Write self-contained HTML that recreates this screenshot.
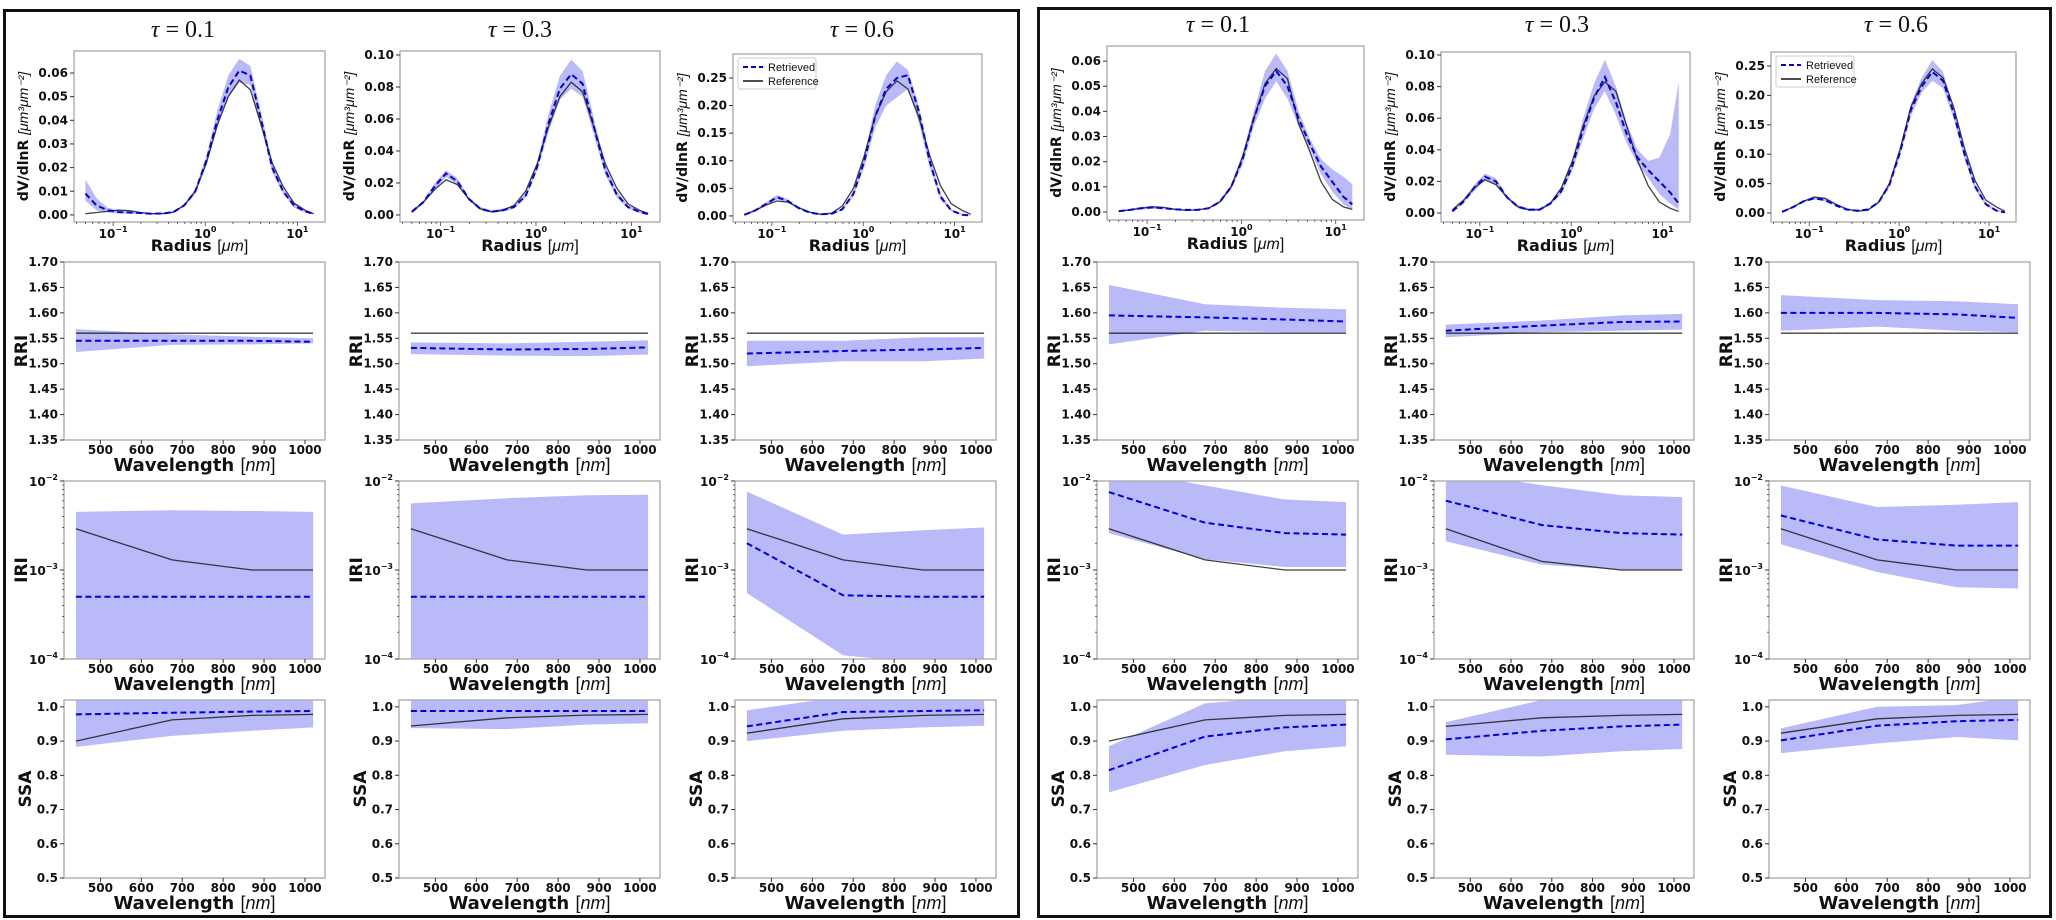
<!DOCTYPE html>
<html><head><meta charset="utf-8">
<style>
html,body{margin:0;padding:0;background:#fff;}
svg{display:block;font-family:"DejaVu Sans","Liberation Sans",sans-serif;}
</style></head>
<body>
<svg id="fig" width="2056" height="920" viewBox="0 0 2056 920" xmlns="http://www.w3.org/2000/svg">
<rect x="0" y="0" width="2056" height="920" fill="#fff"/>
<rect x="4.5" y="10.5" width="1014" height="906" fill="none" stroke="#111" stroke-width="3"/>
<rect x="1038.5" y="8.5" width="1012" height="908" fill="none" stroke="#111" stroke-width="3"/>
</svg>
<script>
// ===== data (panel order: L-tau0.1, L-tau0.3, L-tau0.6, R-tau0.1, R-tau0.3, R-tau0.6) =====
const tauLabels = ["0.1","0.3","0.6","0.1","0.3","0.6"];
const wavelengths = [440, 675, 870, 1020];
const radii = [0.05,0.066,0.087,0.114,0.15,0.198,0.26,0.342,0.45,0.59,0.78,1.03,1.35,1.78,2.34,3.08,4.05,5.33,7.0,9.2,12.1,15.0];
const wlTicks = [500,600,700,800,900,1000];
const rriTicks = [1.35,1.40,1.45,1.50,1.55,1.60,1.65,1.70];
const ssaTicks = [0.5,0.6,0.7,0.8,0.9,1.0];
const iriTickExp = [-4,-3,-2];
const radiusTickExp = [-1,0,1];
const dvTicks = [
 [0,0.01,0.02,0.03,0.04,0.05,0.06],[0,0.02,0.04,0.06,0.08,0.10],[0,0.05,0.10,0.15,0.20,0.25],
 [0,0.01,0.02,0.03,0.04,0.05,0.06],[0,0.02,0.04,0.06,0.08,0.10],[0,0.05,0.10,0.15,0.20,0.25]];
const dvLimits = [[-0.003,0.0693],[-0.0044,0.1025],[-0.011,0.2935],[-0.0032,0.066],[-0.0057,0.1019],[-0.0153,0.2738]];

const dvRef = [
 [0.0005,0.001,0.0015,0.002,0.0018,0.001,0.0005,0.0005,0.0012,0.004,0.01,0.022,0.038,0.05,0.057,0.053,0.038,0.022,0.012,0.005,0.002,0.0005],
 [0.002,0.008,0.016,0.022,0.019,0.01,0.004,0.002,0.003,0.006,0.015,0.032,0.055,0.074,0.083,0.077,0.055,0.032,0.017,0.007,0.003,0.001],
 [0.002,0.01,0.02,0.027,0.025,0.015,0.007,0.003,0.005,0.018,0.05,0.11,0.18,0.225,0.245,0.23,0.18,0.11,0.055,0.022,0.01,0.003],
 [0.0003,0.0008,0.0015,0.002,0.0018,0.001,0.0006,0.0008,0.0015,0.004,0.01,0.022,0.037,0.051,0.057,0.053,0.035,0.024,0.012,0.005,0.002,0.001],
 [0.002,0.008,0.016,0.021,0.018,0.01,0.004,0.002,0.002,0.006,0.016,0.033,0.055,0.074,0.083,0.077,0.055,0.033,0.017,0.007,0.003,0.001],
 [0.002,0.01,0.02,0.027,0.025,0.015,0.007,0.003,0.005,0.018,0.05,0.11,0.18,0.22,0.245,0.23,0.18,0.11,0.055,0.022,0.01,0.003]];
const dvRet = [
 [0.009,0.004,0.002,0.0012,0.001,0.0008,0.0005,0.0006,0.0012,0.004,0.01,0.023,0.04,0.054,0.061,0.059,0.04,0.02,0.01,0.004,0.0015,0.0005],
 [0.002,0.008,0.018,0.026,0.021,0.01,0.004,0.002,0.003,0.005,0.012,0.03,0.057,0.079,0.088,0.082,0.055,0.028,0.013,0.005,0.002,0.0005],
 [0.002,0.01,0.022,0.034,0.027,0.014,0.006,0.003,0.004,0.012,0.04,0.1,0.18,0.23,0.25,0.255,0.19,0.1,0.035,0.01,0.002,0.001],
 [0.0003,0.0008,0.0015,0.0018,0.0015,0.001,0.0008,0.0008,0.0015,0.004,0.01,0.021,0.037,0.05,0.056,0.05,0.037,0.027,0.018,0.012,0.006,0.003],
 [0.001,0.007,0.016,0.023,0.02,0.01,0.004,0.002,0.002,0.006,0.014,0.03,0.053,0.073,0.086,0.07,0.05,0.035,0.027,0.02,0.013,0.006],
 [0.002,0.01,0.02,0.025,0.022,0.013,0.006,0.004,0.006,0.018,0.048,0.105,0.175,0.215,0.24,0.225,0.17,0.1,0.045,0.015,0.004,0.001]];
const dvHi = [
 [0.015,0.007,0.003,0.002,0.0015,0.001,0.0008,0.0009,0.0016,0.0045,0.011,0.025,0.044,0.059,0.066,0.063,0.043,0.022,0.011,0.005,0.002,0.0008],
 [0.003,0.009,0.02,0.028,0.023,0.011,0.005,0.003,0.004,0.006,0.014,0.033,0.063,0.087,0.097,0.09,0.06,0.031,0.015,0.006,0.003,0.001],
 [0.003,0.012,0.025,0.038,0.03,0.016,0.007,0.004,0.005,0.014,0.045,0.11,0.2,0.255,0.28,0.265,0.2,0.11,0.04,0.012,0.003,0.0015],
 [0.0006,0.0012,0.002,0.0025,0.002,0.0014,0.001,0.001,0.0018,0.0045,0.011,0.023,0.04,0.056,0.063,0.056,0.04,0.029,0.021,0.017,0.014,0.011],
 [0.002,0.008,0.018,0.025,0.022,0.011,0.005,0.003,0.003,0.007,0.016,0.034,0.06,0.082,0.097,0.08,0.057,0.04,0.033,0.035,0.05,0.083],
 [0.003,0.011,0.022,0.027,0.024,0.014,0.007,0.005,0.007,0.02,0.052,0.112,0.185,0.23,0.26,0.24,0.18,0.108,0.05,0.018,0.006,0.002]];
const dvLo = [
 [0.006,0.002,0.001,0.0006,0.0005,0.0004,0.0003,0.0004,0.0009,0.0035,0.009,0.021,0.037,0.05,0.056,0.055,0.037,0.018,0.009,0.003,0.001,0.0003],
 [0.001,0.007,0.016,0.024,0.019,0.009,0.003,0.0015,0.002,0.004,0.011,0.028,0.052,0.072,0.079,0.074,0.05,0.025,0.011,0.004,0.0015,0.0002],
 [0.001,0.008,0.019,0.03,0.024,0.012,0.005,0.002,0.003,0.01,0.035,0.09,0.16,0.2,0.215,0.23,0.17,0.088,0.03,0.008,0.001,0.0005],
 [0.0001,0.0005,0.001,0.0012,0.001,0.0007,0.0005,0.0006,0.0012,0.0035,0.009,0.019,0.034,0.045,0.052,0.045,0.034,0.025,0.015,0.008,0.003,0.001],
 [0.0005,0.006,0.014,0.021,0.018,0.009,0.003,0.0015,0.0015,0.005,0.012,0.027,0.047,0.066,0.077,0.062,0.044,0.031,0.022,0.012,0.006,0.002],
 [0.001,0.009,0.018,0.023,0.02,0.012,0.005,0.003,0.005,0.016,0.044,0.098,0.165,0.205,0.225,0.212,0.16,0.092,0.04,0.012,0.002,0.0005]];

const rriRef = [[1.56,1.56,1.56,1.56],[1.56,1.56,1.56,1.56],[1.56,1.56,1.56,1.56],[1.56,1.56,1.56,1.56],[1.56,1.56,1.56,1.56],[1.56,1.56,1.56,1.56]];
const rriRet = [[1.545,1.545,1.545,1.543],[1.531,1.528,1.529,1.532],[1.52,1.525,1.528,1.531],[1.595,1.591,1.587,1.583],[1.565,1.575,1.582,1.583],[1.60,1.60,1.597,1.59]];
const rriHi  = [[1.568,1.558,1.553,1.55],[1.542,1.540,1.543,1.546],[1.545,1.545,1.552,1.552],[1.655,1.617,1.61,1.607],[1.577,1.585,1.595,1.598],[1.635,1.625,1.623,1.617]];
const rriLo  = [[1.523,1.537,1.538,1.54],[1.519,1.516,1.515,1.518],[1.495,1.505,1.505,1.51],[1.538,1.565,1.562,1.562],[1.552,1.562,1.565,1.567],[1.565,1.573,1.565,1.562]];

const iriRef = [[2.9e-3,1.3e-3,1.0e-3,1.0e-3],[2.9e-3,1.3e-3,1.0e-3,1.0e-3],[2.9e-3,1.3e-3,1.0e-3,1.0e-3],[2.9e-3,1.3e-3,1.0e-3,1.0e-3],[2.9e-3,1.25e-3,1.0e-3,1.0e-3],[2.9e-3,1.3e-3,1.0e-3,1.0e-3]];
const iriRet = [[5e-4,5e-4,5e-4,5e-4],[5e-4,5e-4,5e-4,5e-4],[2.0e-3,5.2e-4,5e-4,5e-4],[7.5e-3,3.4e-3,2.6e-3,2.5e-3],[6.0e-3,3.2e-3,2.6e-3,2.5e-3],[4.1e-3,2.2e-3,1.88e-3,1.88e-3]];
const iriHi  = [[4.5e-3,4.7e-3,4.6e-3,4.5e-3],[5.6e-3,6.4e-3,6.9e-3,7.0e-3],[7.6e-3,2.5e-3,2.8e-3,3.0e-3],[1.4e-2,8.9e-3,6.2e-3,5.8e-3],[1.3e-2,9.0e-3,6.9e-3,6.6e-3],[8.9e-3,5.1e-3,5.4e-3,5.8e-3]];
const iriLo  = [[5e-5,5e-5,5e-5,5e-5],[5e-5,5e-5,5e-5,5e-5],[5.5e-4,1.1e-4,9e-5,8e-5],[2.6e-3,1.32e-3,1.08e-3,1.08e-3],[2.1e-3,1.15e-3,1.0e-3,1.0e-3],[1.95e-3,9.5e-4,6.4e-4,6.2e-4]];

const ssaRef = [[0.90,0.962,0.975,0.978],[0.944,0.968,0.976,0.978],[0.923,0.965,0.975,0.978],[0.90,0.962,0.975,0.978],[0.943,0.968,0.975,0.978],[0.923,0.965,0.975,0.978]];
const ssaRet = [[0.978,0.983,0.986,0.988],[0.988,0.988,0.988,0.988],[0.943,0.985,0.988,0.99],[0.815,0.913,0.94,0.948],[0.905,0.93,0.943,0.948],[0.902,0.945,0.958,0.962]];
const ssaHi  = [[1.03,1.03,1.03,1.03],[1.03,1.03,1.03,1.03],[0.99,1.03,1.03,1.03],[0.885,1.01,1.03,1.03],[0.955,1.02,1.03,1.03],[0.937,1.0,1.005,1.03]];
const ssaLo  = [[0.883,0.915,0.93,0.94],[0.938,0.935,0.948,0.952],[0.90,0.93,0.94,0.945],[0.75,0.83,0.87,0.885],[0.86,0.855,0.87,0.877],[0.865,0.893,0.912,0.902]];

// ===== layout =====
const colX = [[64,325],[399,660],[735,996],[1097,1358],[1434,1694],[1769,2030]];
const dvX  = [[74,325],[400,660],[733,982],[1107,1364],[1441,1690],[1771,2016]];
const dvY  = [[51,222],[51,222],[54,222],[46,220],[52,222],[52,222]];
const titleXY = [[183,37],[520,37],[862,37],[1218,32],[1557,32],[1896,32]];
const rowY = {rri:[262,440], iri:[481,659], ssa:[700,878]};
const WL_LIM = [411,1049];
const R_LIM = [-1.425,1.30];

const NS = "http://www.w3.org/2000/svg";
const svg = document.getElementById('fig');
let clipN = 0;
function mk(tag, attrs, parent){
  const e = document.createElementNS(NS, tag);
  for (const k in attrs) e.setAttribute(k, attrs[k]);
  (parent||svg).appendChild(e);
  return e;
}
function linS(d0,d1,p0,p1){ return v => p0 + (v-d0)/(d1-d0)*(p1-p0); }
function logS(e0,e1,p0,p1){ return v => p0 + (Math.log10(v)-e0)/(e1-e0)*(p1-p0); }
function fmt(v,d){ return v.toFixed(d); }

function powLabel(parent, x, y, exp, anchor){
  const t = mk('text', {x:x, y:y, 'font-size':12, 'font-weight':'bold', 'text-anchor':anchor, fill:'#111'}, parent);
  const a = mk('tspan', {}, t); a.textContent = '10';
  const b = mk('tspan', {dy:-6, 'font-size':8}, t); b.textContent = (exp<0?'\u2212':'')+Math.abs(exp);
  return t;
}

function axesFrame(g, x0,x1,y0,y1){
  const id = 'clip'+(clipN++);
  const cp = mk('clipPath', {id:id}, g);
  mk('rect', {x:x0, y:y0, width:x1-x0, height:y1-y0}, cp);
  const area = mk('g', {'clip-path':'url(#'+id+')'}, g);
  return area;
}
function frameBorder(g,x0,x1,y0,y1){
  const r = mk('rect', {x:x0, y:y0, width:x1-x0, height:y1-y0, fill:'none', stroke:'#a8a8a8', 'stroke-width':1.3}, g);
  
  
}

function drawSeries(area, xs, xsc, ysc, ret, ref, hi, lo, names){
  let d = '';
  xs.forEach((x,i)=>{ d += (i?'L':'M') + xsc(x).toFixed(1) + ' ' + ysc(hi[i]).toFixed(1); });
  for (let i=xs.length-1;i>=0;i--) d += 'L' + xsc(xs[i]).toFixed(1) + ' ' + ysc(lo[i]).toFixed(1);
  const band = mk('path', {d:d+'Z', fill:'#babaf8', stroke:'none'}, area);
  
  
  const pts = arr => xs.map((x,i)=>xsc(x).toFixed(1)+','+ysc(arr[i]).toFixed(1)).join(' ');
  const l1 = mk('polyline', {points:pts(ref), fill:'none', stroke:'#111', 'stroke-opacity':0.8, 'stroke-width':1.3}, area);
  
  
  const l2 = mk('polyline', {points:pts(ret), fill:'none', stroke:'#0000e6', 'stroke-width':2, 'stroke-dasharray':'6,3.5'}, area);
  
  
}

function xWavelengthAxis(g, x0,x1,y1, xsc){
  wlTicks.forEach(t=>{
    const px = xsc(t);
    mk('line', {x1:px, x2:px, y1:y1, y2:y1+4, stroke:'#333', 'stroke-width':1}, g);
    const tl = mk('text', {x:px, y:y1+14, 'font-size':12, 'font-weight':'bold', 'text-anchor':'middle', fill:'#111'}, g);
    tl.textContent = t;
    
    
  });
  const xl = mk('text', {x:(x0+x1)/2, y:y1+31, 'font-size':18, 'text-anchor':'middle', fill:'#111'}, g);
  const a = mk('tspan', {'font-weight':'bold'}, xl); a.textContent = 'Wavelength ';
  const b = mk('tspan', {'font-family':'Liberation Sans, sans-serif'}, xl); b.textContent = ' [';
  const c = mk('tspan', {'font-style':'italic','font-family':'Liberation Sans, sans-serif'}, xl); c.textContent = 'nm';
  const dd = mk('tspan', {'font-family':'Liberation Sans, sans-serif'}, xl); dd.textContent = ']';
  
  
}
function yLabel(g, x, y, txt){
  const t = mk('text', {x:x, y:y, 'font-size':17, 'font-weight':'bold', 'text-anchor':'middle', fill:'#111', transform:'rotate(-90 '+x+' '+y+')'}, g);
  t.textContent = txt;
  
  
}
function linYTicks(g, x0, ysc, ticks, dec){
  ticks.forEach(t=>{
    const py = ysc(t);
    mk('line', {x1:x0-4, x2:x0, y1:py, y2:py, stroke:'#333', 'stroke-width':1}, g);
    const tl = mk('text', {x:x0-6, y:py+4, 'font-size':12, 'font-weight':'bold', 'text-anchor':'end', fill:'#111'}, g);
    tl.textContent = fmt(t,dec);
    
    
  });
}

for (let p=0; p<6; p++){
  const g = mk('g', {});
  
  

  const tt = mk('text', {x:titleXY[p][0], y:titleXY[p][1], 'font-size':24, 'text-anchor':'middle', fill:'#111', 'font-family':'Liberation Serif, serif'}, g);
  const ta = mk('tspan', {'font-style':'italic'}, tt); ta.textContent = '\u03C4';
  const tb = mk('tspan', {}, tt); tb.textContent = ' = ' + tauLabels[p];
  
  

  // ---- size distribution ----
  {
    const [x0,x1] = dvX[p], [y0,y1] = dvY[p];
    const xsc = logS(R_LIM[0], R_LIM[1], x0, x1);
    const ysc = linS(dvLimits[p][0], dvLimits[p][1], y1, y0);
    const sg = mk('g', {}, g);
    
    
    const area = axesFrame(sg, x0,x1,y0,y1);
    drawSeries(area, radii, xsc, ysc, dvRet[p], dvRef[p], dvHi[p], dvLo[p], 'dv');
    frameBorder(sg,x0,x1,y0,y1);
    for (let e=-2; e<=1; e++) for (let m=1; m<10; m++){
      const v = m*Math.pow(10,e), px = xsc(v);
      if (px < x0 || px > x1) continue;
      mk('line', {x1:px, x2:px, y1:y1, y2:y1+(m===1?4:2), stroke:'#444', 'stroke-width':0.8}, sg);
    }
    radiusTickExp.forEach(e=>{
      const tl = powLabel(sg, xsc(Math.pow(10,e)), y1+16, e, 'middle');
      
      
    });
    linYTicks(sg, x0, ysc, dvTicks[p], 2);
    const xl = mk('text', {x:(x0+x1)/2, y:y1+29, 'font-size':16, 'text-anchor':'middle', fill:'#111'}, sg);
    const a = mk('tspan', {'font-weight':'bold'}, xl); a.textContent = 'Radius ';
    const b = mk('tspan', {'font-family':'Liberation Sans, sans-serif'}, xl); b.textContent = ' [';
    const c = mk('tspan', {'font-style':'italic','font-family':'Liberation Sans, sans-serif'}, xl); c.textContent = '\u03BCm';
    const d = mk('tspan', {'font-family':'Liberation Sans, sans-serif'}, xl); d.textContent = ']';
    
    
    const yx = x0-46, yy = (y0+y1)/2;
    const yl = mk('text', {x:yx, y:yy, 'font-size':14, 'text-anchor':'middle', fill:'#111', transform:'rotate(-90 '+yx+' '+yy+')'}, sg);
    const ya = mk('tspan', {'font-weight':'bold'}, yl); ya.textContent = 'dV/dlnR ';
    const yb = mk('tspan', {'font-family':'Liberation Sans, sans-serif','font-style':'italic'}, yl); yb.textContent = '[\u03BCm\u00B3\u03BCm\u207B\u00B2]';
    
    

    if (p===2 || p===5){
      const lx = x0+5, ly = y0+4;
      const lg = mk('g', {}, sg);
      
      
      mk('rect', {x:lx, y:ly, width:78, height:31, fill:'#fff', 'fill-opacity':0.85, stroke:'#ccc', 'stroke-width':1, rx:2}, lg);
      const e1 = mk('line', {x1:lx+5, x2:lx+25, y1:ly+9, y2:ly+9, stroke:'#0000e6', 'stroke-width':2, 'stroke-dasharray':'5,3'}, lg);
      
      
      const t1 = mk('text', {x:lx+30, y:ly+13, 'font-size':11, fill:'#111', 'font-family':'Liberation Sans, sans-serif'}, lg); t1.textContent = 'Retrieved';
      
      
      const e2 = mk('line', {x1:lx+5, x2:lx+25, y1:ly+23, y2:ly+23, stroke:'#111', 'stroke-width':1.5}, lg);
      
      
      const t2 = mk('text', {x:lx+30, y:ly+27, 'font-size':11, fill:'#111', 'font-family':'Liberation Sans, sans-serif'}, lg); t2.textContent = 'Reference';
      
      
    }
  }

  const [x0,x1] = colX[p];
  const xsc = linS(WL_LIM[0], WL_LIM[1], x0, x1);

  // ---- RRI ----
  {
    const [y0,y1] = rowY.rri;
    const ysc = linS(1.35, 1.70, y1, y0);
    const sg = mk('g', {}, g);
    
    
    const area = axesFrame(sg, x0,x1,y0,y1);
    drawSeries(area, wavelengths, xsc, ysc, rriRet[p], rriRef[p], rriHi[p], rriLo[p], 'rri');
    frameBorder(sg,x0,x1,y0,y1);
    linYTicks(sg, x0, ysc, rriTicks, 2);
    xWavelengthAxis(sg, x0,x1,y1, xsc);
    yLabel(sg, x0-37, (y0+y1)/2, 'RRI');
  }
  // ---- IRI ----
  {
    const [y0,y1] = rowY.iri;
    const ysc = logS(-4, -2, y1, y0);
    const sg = mk('g', {}, g);
    
    
    const area = axesFrame(sg, x0,x1,y0,y1);
    drawSeries(area, wavelengths, xsc, ysc, iriRet[p], iriRef[p], iriHi[p], iriLo[p], 'iri');
    frameBorder(sg,x0,x1,y0,y1);
    for (let e=-4; e<-2; e++) for (let m=2; m<10; m++){
      const py = ysc(m*Math.pow(10,e));
      mk('line', {x1:x0-2, x2:x0, y1:py, y2:py, stroke:'#444', 'stroke-width':0.8}, sg);
    }
    iriTickExp.forEach(e=>{
      const py = ysc(Math.pow(10,e));
      mk('line', {x1:x0-4, x2:x0, y1:py, y2:py, stroke:'#333', 'stroke-width':1}, sg);
      const tl = powLabel(sg, x0-6, py+5, e, 'end');
      
      
    });
    xWavelengthAxis(sg, x0,x1,y1, xsc);
    yLabel(sg, x0-37, (y0+y1)/2, 'IRI');
  }
  // ---- SSA ----
  {
    const [y0,y1] = rowY.ssa;
    const ysc = linS(0.5, 1.02, y1, y0);
    const sg = mk('g', {}, g);
    
    
    const area = axesFrame(sg, x0,x1,y0,y1);
    drawSeries(area, wavelengths, xsc, ysc, ssaRet[p], ssaRef[p], ssaHi[p], ssaLo[p], 'ssa');
    frameBorder(sg,x0,x1,y0,y1);
    linYTicks(sg, x0, ysc, ssaTicks, 1);
    xWavelengthAxis(sg, x0,x1,y1, xsc);
    yLabel(sg, x0-33, (y0+y1)/2, 'SSA');
  }
}
</script>
</body></html>
